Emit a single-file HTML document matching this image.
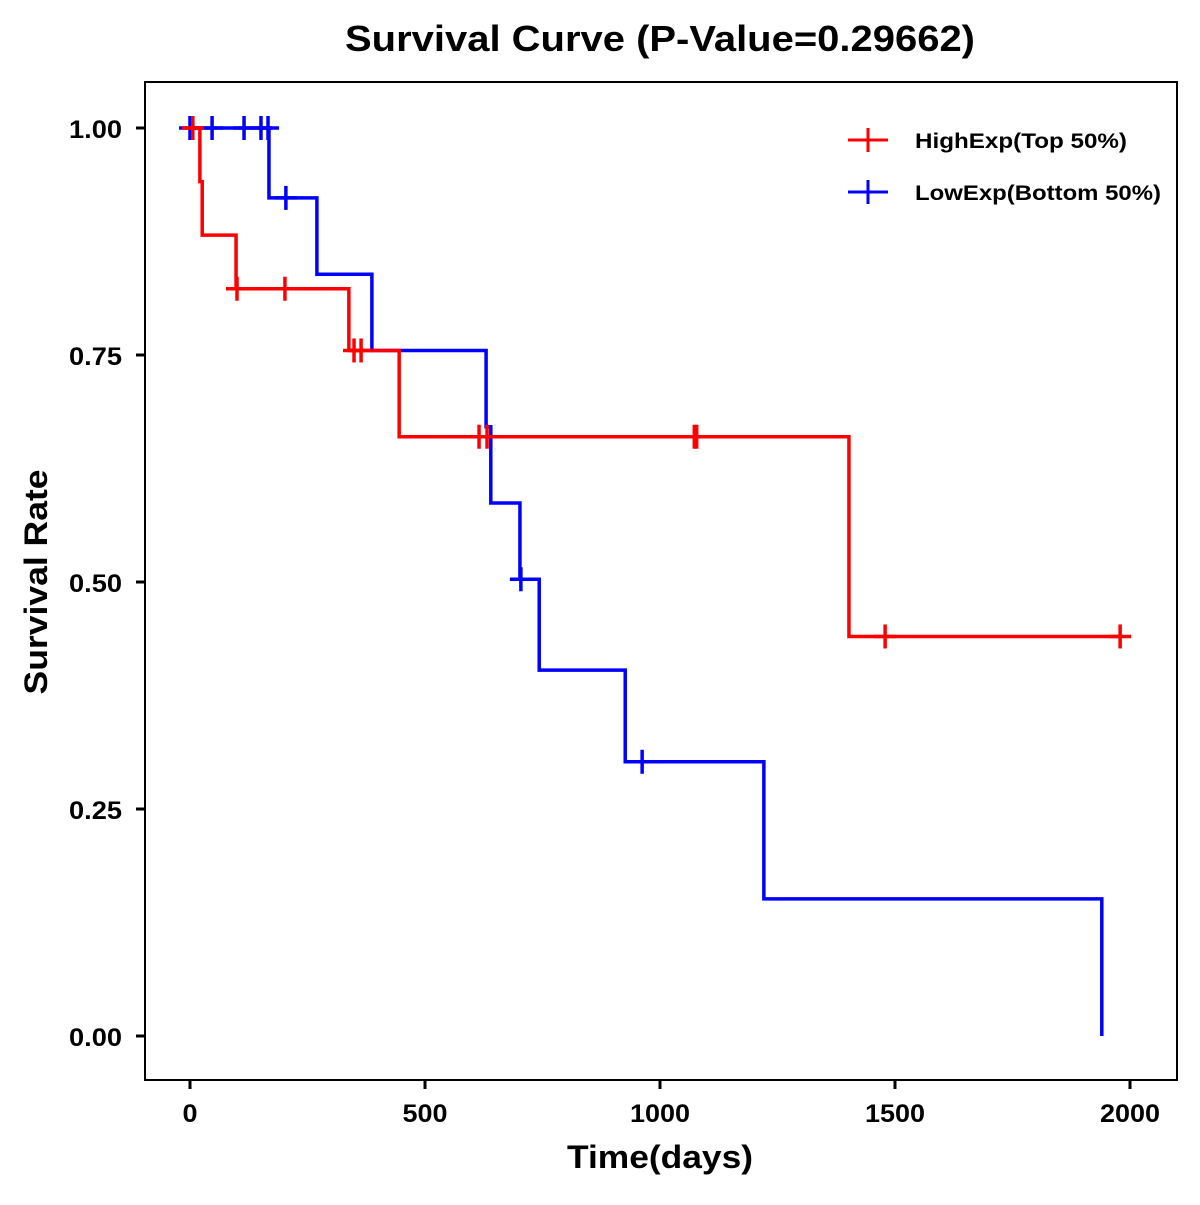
<!DOCTYPE html>
<html><head><meta charset="utf-8"><style>
html,body{margin:0;padding:0;background:#fff;}
svg text{font-family:"Liberation Sans",Arial,sans-serif;font-weight:bold;fill:#000;}
</style></head><body>
<svg id="chart" width="1200" height="1200" viewBox="0 0 1200 1200" xmlns="http://www.w3.org/2000/svg">
<rect width="1200" height="1200" fill="#fff"/>
<text x="660" y="51" font-size="36" text-anchor="middle" textLength="630" lengthAdjust="spacingAndGlyphs">Survival Curve (P-Value=0.29662)</text>
<rect x="145" y="82" width="1032" height="998" fill="none" stroke="#000" stroke-width="2"/>
<g id="axes"></g>
<g id="series"></g>
<text x="660" y="1168" font-size="32" text-anchor="middle" textLength="186" lengthAdjust="spacingAndGlyphs">Time(days)</text>
<text transform="translate(47,582) rotate(-90)" font-size="32" text-anchor="middle" textLength="225" lengthAdjust="spacingAndGlyphs">Survival Rate</text>
<g>
<g>
<line x1="848" y1="140" x2="888" y2="140" stroke="#f00" stroke-width="3"/><line x1="868" y1="128" x2="868" y2="152" stroke="#f00" stroke-width="3"/>
<text x="915" y="148" font-size="21" textLength="212" lengthAdjust="spacingAndGlyphs">HighExp(Top 50%)</text></g>
<g>
<line x1="848" y1="192" x2="888" y2="192" stroke="#00f" stroke-width="3"/><line x1="868" y1="180" x2="868" y2="204" stroke="#00f" stroke-width="3"/>
<text x="915" y="200" font-size="21" textLength="246" lengthAdjust="spacingAndGlyphs">LowExp(Bottom 50%)</text></g>
</g>
</svg>
<script>
const xTicks=[0,500,1000,1500,2000];
const yTicks=[0,0.25,0.5,0.75,1.0];
const yTickLabels=["0.00","0.25","0.50","0.75","1.00"];
const highTimes=[0,21,26,98,338,445,1402];
const highSurv=[1.0,0.941,0.882,0.823,0.755,0.660,0.440];
const highCensor=[6,100,202,349,364,615,632,1073,1078,1479,1979];
const highEnd=1979;
const lowTimes=[0,168,270,387,630,640,702,743,926,1221,1940];
const lowSurv=[1.0,0.923,0.839,0.755,0.671,0.587,0.503,0.403,0.302,0.151,0.0];
const lowCensor=[0,47,115,151,166,204,704,962];
const lowEnd=1940;

const NS="http://www.w3.org/2000/svg";
const xs=t=>190+t*0.47;
const ys=s=>1036-s*908;
function mk(tag,attrs,parent){const e=document.createElementNS(NS,tag);for(const k in attrs)e.setAttribute(k,attrs[k]);parent.appendChild(e);return e;}
const axes=document.getElementById('axes');
xTicks.forEach(v=>{
  const l=mk('line',{x1:xs(v),x2:xs(v),y1:1080,y2:1089,stroke:'#000','stroke-width':3},axes);
  
  
  const w=String(v).length*15;
  const t=mk('text',{x:xs(v),y:1122,'font-size':25,'text-anchor':'middle',textLength:w,lengthAdjust:'spacingAndGlyphs'},axes);
  t.textContent=v;
  
  
});
yTicks.forEach((v,i)=>{
  const l=mk('line',{x1:136,x2:145,y1:ys(v),y2:ys(v),stroke:'#000','stroke-width':3},axes);
  
  
  const t=mk('text',{x:122,y:ys(v)+10,'font-size':25,'text-anchor':'end',textLength:53,lengthAdjust:'spacingAndGlyphs'},axes);
  t.textContent=yTickLabels[i];
  
  
});
function survAt(times,surv,t){let s=surv[0];for(let i=0;i<times.length;i++){if(times[i]<=t)s=surv[i];}return s;}
function drawSeries(times,surv,end,cens,color,name){
  const g=document.getElementById('series');
  let d=`M${xs(times[0])},${ys(surv[0])}`;
  for(let i=1;i<times.length;i++){d+=` H${xs(times[i])} V${ys(surv[i])}`;}
  d+=` H${xs(end)}`;
  const p=mk('path',{d:d,fill:'none',stroke:color,'stroke-width':3.5},g);
  
  
  cens.forEach(c=>{
    const s=survAt(times,surv,c);
    const cg=mk('g',{},g);
    
    
    mk('line',{x1:xs(c)-11,x2:xs(c)+11,y1:ys(s),y2:ys(s),stroke:color,'stroke-width':3.5},cg);
    mk('line',{x1:xs(c),x2:xs(c),y1:ys(s)-12,y2:ys(s)+12,stroke:color,'stroke-width':3.5},cg);
  });
}
drawSeries(lowTimes,lowSurv,lowEnd,lowCensor,'#00f','low-exp');
drawSeries(highTimes,highSurv,highEnd,highCensor,'#f00','high-exp');
</script>
</body></html>
